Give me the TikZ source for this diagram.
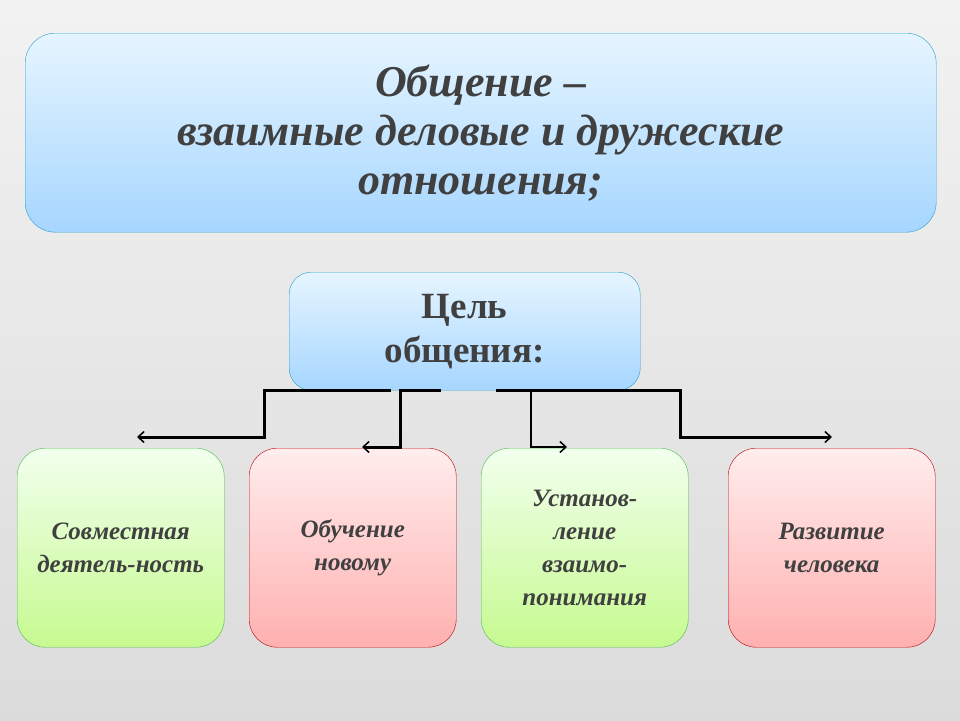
\documentclass[tikz,border=0pt]{standalone}
\usepackage{fontspec}
\setmainfont{Liberation Serif}
\usetikzlibrary{arrows.meta, positioning}
\definecolor{txt}{HTML}{404040}
\definecolor{skytop}{HTML}{E6F5FF}
\definecolor{skybot}{HTML}{A6D6FF}
\definecolor{greentop}{HTML}{F2FFEE}
\definecolor{greenbot}{HTML}{C6FA90}
\definecolor{redtop}{HTML}{FFEDED}
\definecolor{redbot}{HTML}{FFB0B0}
\begin{document}
\begin{tikzpicture}[x=1pt, y=-1pt,
                blue box/.style={draw=cyan!80!black, rounded corners=30pt, top color=skytop, bottom color=skybot, text=txt, align=center, anchor=north west},
                green box/.style={draw=green!60!black!70, rounded corners=28pt, top color=greentop, bottom color=greenbot, text=txt, align=center, anchor=north west, minimum width=207pt, minimum height=199pt, font=\bfseries\itshape\fontsize{25}{33}\selectfont},
                red box/.style={green box, draw=red!75!black, top color=redtop, bottom color=redbot},
                link/.style={line width=3pt, -{Straight Barb[length=6pt, width=11pt, line width=1.5pt]}}]

            % background
            \shade[top color=black!5, bottom color=black!14] (0,0) rectangle (960,720);
            \useasboundingbox (0,0) rectangle (960,720);

            % boxes
            \node[blue box, minimum width=911pt, minimum height=199pt, font=\bfseries\itshape\fontsize{44}{49}\selectfont] (def) at (25,33) {Общение –\\ взаимные деловые и дружеские\\ отношения;};
            \node[blue box, rounded corners=22pt, minimum width=351pt, minimum height=118pt, font=\bfseries\fontsize{37}{44}\selectfont] (goal) at (289,272) {Цель\\ общения:};
            \node[green box] (joint) at (17,448) {Совместная\\ деятель-ность};
            \node[red box] (learn) at (249,448) {Обучение\\ новому};
            \node[green box] (under) at (481,448) {Установ-\\ ление\\ взаимо-\\ понимания};
            \node[red box] (grow) at (728,448) {Развитие\\ человека};

            % connectors
            \coordinate (c1) at (391,390);
            \coordinate (c2) at (441,390);
            \coordinate (c3) at (531,390);
            \coordinate (c4) at (496,390);
            \draw[link] (c1) -- (264,390) |- (137,437);
            \draw[link] (c2) -- (400,390) |- (362,447);
            \draw[link, line width=1.5pt] (c3) |- (567,447);
            \draw[link] (c4) -- (680,390) |- (832,437);
        \end{tikzpicture}
\end{document}
